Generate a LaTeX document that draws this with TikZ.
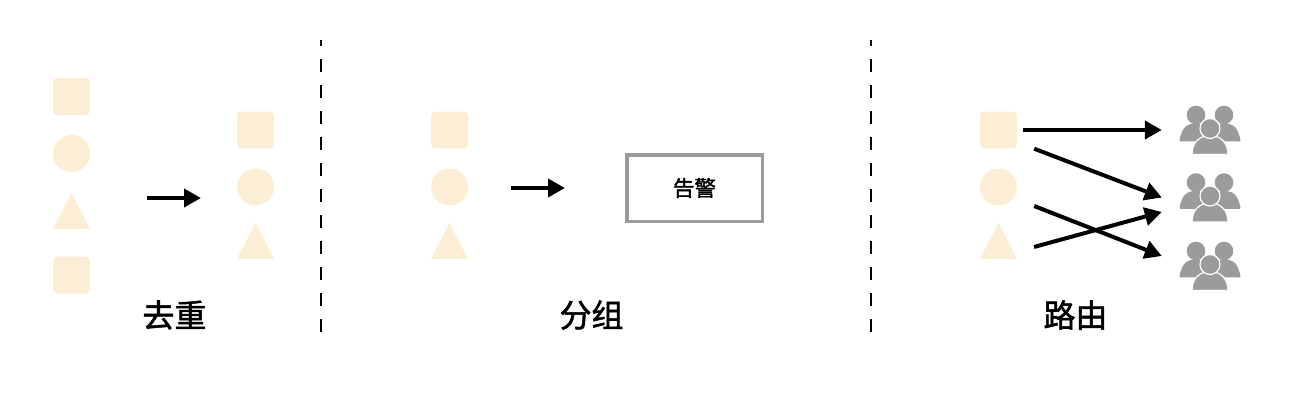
\documentclass[tikz,border=0pt]{standalone}
\usepackage{fontspec}
\usetikzlibrary{shapes.geometric, arrows.meta}
\newfontfamily\cjk[FakeBold=1.6]{Noto Sans CJK SC}
\definecolor{alertfill}{HTML}{FCEED5}
\definecolor{usergrey}{HTML}{9B9B9B}
\tikzstyle{squarebox} = [rectangle, rounded corners=4pt, minimum size=37pt, inner sep=0pt, fill=alertfill]
\tikzstyle{roundbox} = [circle, minimum size=37pt, inner sep=0pt, fill=alertfill]
\tikzstyle{tribox} = [isosceles triangle, isosceles triangle apex angle=54.4, shape border rotate=90, minimum height=36pt, inner sep=0pt, fill=alertfill]
\tikzstyle{titlenode} = [font=\cjk\fontsize{32}{32}\selectfont, inner sep=0pt]
\tikzstyle{groupbox} = [rectangle, minimum width=135.5pt, minimum height=66.5pt, line width=3.5pt, draw=usergrey, font=\cjk\fontsize{21.5}{21.5}\selectfont]
\tikzstyle{usersbox} = [rectangle, minimum width=62pt, minimum height=49pt, inner sep=0pt]
\tikzstyle{arrow} = [line width=4pt,-{Triangle[length=17pt,width=18pt]}]
\tikzstyle{divider} = [line width=2pt, dash pattern=on 13pt off 13pt, dash phase=7pt]
\tikzset{usersicon/.pic={
	\fill [usergrey] (-14,-15) circle (9.3);
	\fill [usergrey] (14,-15) circle (9.3);
	\fill [usergrey] (-30.5,10) .. controls (-28,-2) and (-24,-6.5) .. (-14,-6.5) .. controls (-4,-6.5) and (2,-2) .. (2,11) -- (-29.5,11.5) -- cycle;
	\fill [usergrey] (30.5,10) .. controls (28,-2) and (24,-6.5) .. (14,-6.5) .. controls (4,-6.5) and (-2,-2) .. (-2,11) -- (29.5,11.5) -- cycle;
	\filldraw [usergrey, draw=white, line width=1.2pt] (-18,24.5) .. controls (-18,12) and (-10,5.5) .. (0,5.5) .. controls (10,5.5) and (18,12) .. (18,24.5) -- cycle;
	\filldraw [usergrey, draw=white, line width=1.2pt] (0,-1.5) circle (10);
}}

\begin{document}
\begin{tikzpicture}[x=1pt,y=-1pt,node distance=57pt]
	\useasboundingbox (0,0) rectangle (1309,405);
	% dedupe
	\node (dupa) [squarebox] at (71.5,96.5) {};
	\node (dupb) [roundbox, below of=dupa] {};
	\node (dupc) [tribox, below of=dupb, node distance=64pt] {};
	\node (dupd) [squarebox, below of=dupc, node distance=57.5pt] {};
	\node (onea) [squarebox] at (255.5,130) {};
	\node (oneb) [roundbox, below of=onea] {};
	\node (onec) [tribox, below of=oneb, node distance=60.5pt] {};
	\node (duptitle) [titlenode] at (174.5,315) {去重};
	% grouping
	\node (grpa) [squarebox] at (449.5,130) {};
	\node (grpb) [roundbox, below of=grpa] {};
	\node (grpc) [tribox, below of=grpb, node distance=60.5pt] {};
	\node (alert) [groupbox] at (694.5,188) {告警};
	\node (grptitle) [titlenode] at (591.5,315) {分组};
	% routing
	\node (rota) [squarebox] at (998.5,130) {};
	\node (rotb) [roundbox, below of=rota] {};
	\node (rotc) [tribox, below of=rotb, node distance=60.5pt] {};
	\node (usera) [usersbox] at (1210,130) {};
	\node (userb) [usersbox] at (1210,197.5) {};
	\node (userc) [usersbox] at (1210,266) {};
	\pic at (usera) {usersicon};
	\pic at (userb) {usersicon};
	\pic at (userc) {usersicon};
	\node (rottitle) [titlenode] at (1075.5,315) {路由};
	% dividers
	\coordinate (diva) at (321,40);
	\coordinate (divb) at (321,332);
	\coordinate (divc) at (871,40);
	\coordinate (divd) at (871,332);
	\draw [divider] (diva) -- (divb);
	\draw [divider] (divc) -- (divd);
	% arrows
	\coordinate (dupfrom) at (147,198);
	\coordinate (dupto) at (201,198);
	\coordinate (grpfrom) at (511,188);
	\coordinate (grpto) at (565,188);
	\draw [arrow] (dupfrom) -- (dupto);
	\draw [arrow] (grpfrom) -- (grpto);
	\draw [arrow] ([xshift=6pt]rota.east) -- ([xshift=-17pt]usera.west);
	\draw [arrow] ([xshift=17pt]rota.south east) -- ([xshift=-17pt]userb.west);
	\draw [arrow] ([shift={(17,19)}]rotb.east) -- ([shift={(-17,-10)}]userc.west);
	\draw [arrow] ([shift={(35.5,-12)}]rotc.south) -- ([shift={(-17,14.5)}]userb.west);
\end{tikzpicture}
\end{document}
